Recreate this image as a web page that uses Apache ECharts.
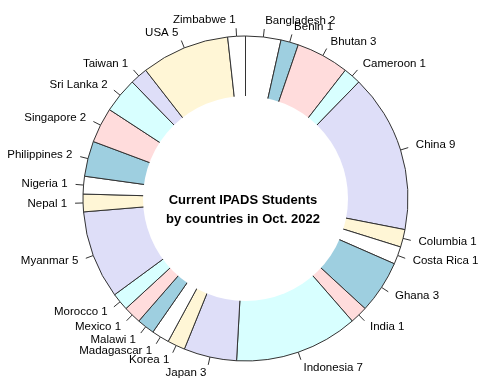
<!DOCTYPE html>
<html>
<head>
<meta charset="utf-8">
<script src="https://cdn.jsdelivr.net/npm/echarts@6/dist/echarts.min.js"></script>
<style>html,body{margin:0;padding:0;background:#fff}#c{width:480px;height:389px}</style>
</head>
<body>
<div id="c"></div>
<script>
const countries = ["Bangladesh","Benin","Bhutan","Cameroon","China","Columbia","Costa Rica","Ghana","India","Indonesia","Japan","Korea","Madagascar","Malawi","Mexico","Morocco","Myanmar","Nepal","Nigeria","Philippines","Singapore","Sri Lanka","Taiwan","USA","Zimbabwe"];
const students = [2,1,3,1,9,1,1,3,1,7,3,1,1,1,1,1,5,1,1,2,2,2,1,5,1];
const palette = ["#FFFFFF","#9ECFE0","#FFDCDC","#D8FFFF","#DEDEF8","#FFF6D6"];
const titleText = "Current IPADS Students\nby countries in Oct. 2022";

const cx = 245.5, cy = 198.5, R = 162.5, R0 = 102.5;
const data = countries.map((c, i) => ({
  name: c, value: students[i],
  itemStyle: { color: palette[i % palette.length] }
}));
const tickData = countries.map((c, i) => ({ name: c, value: students[i] }));

const chart = echarts.init(document.getElementById('c'), null, { renderer: 'canvas' });
chart.setOption({
  animation: false,
  backgroundColor: '#fff',
  title: {
    text: titleText,
    left: 243, top: 191, textAlign: 'center', padding: 0, z: 20,
    textStyle: { fontFamily: 'Liberation Sans, Arial, sans-serif', fontSize: 13, fontWeight: 'bold', lineHeight: 19, color: '#000' }
  },
  series: [
    {
      type: 'pie', center: [cx, cy], radius: [0, R], startAngle: 90, clockwise: true,
      avoidLabelOverlap: false, silent: true, z: 2,
      data: data,
      itemStyle: { borderColor: '#333', borderWidth: 1 },
      label: {
        show: true, position: 'outside', distanceToLabelLine: 0,
        formatter: p => p.name + ' ' + p.value,
        fontFamily: 'Liberation Sans, Arial, sans-serif', fontSize: 11.5, color: '#000'
      },
      labelLayout: { hideOverlap: false },
      labelLine: { show: false, length: 16, length2: 0 },
      emphasis: { disabled: true }
    },
    {
      type: 'pie', center: [cx, cy], radius: [0, R], startAngle: 90, clockwise: true,
      avoidLabelOverlap: false, silent: true, z: 1,
      data: tickData,
      itemStyle: { color: 'rgba(0,0,0,0)', borderWidth: 0 },
      label: { show: true, position: 'outside', formatter: ' ', fontSize: 1 },
      labelLayout: { hideOverlap: false },
      labelLine: { show: true, length: 8, length2: 0, lineStyle: { color: '#333', width: 1 } },
      emphasis: { disabled: true }
    },
    {
      type: 'pie', center: [cx, cy], radius: [0, R0], silent: true, z: 5,
      data: [{ name: 'hole', value: 1 }],
      itemStyle: { color: '#fff', borderWidth: 0 },
      label: { show: false }, labelLine: { show: false },
      emphasis: { disabled: true }
    }
  ]
});
</script>
</body>
</html>
